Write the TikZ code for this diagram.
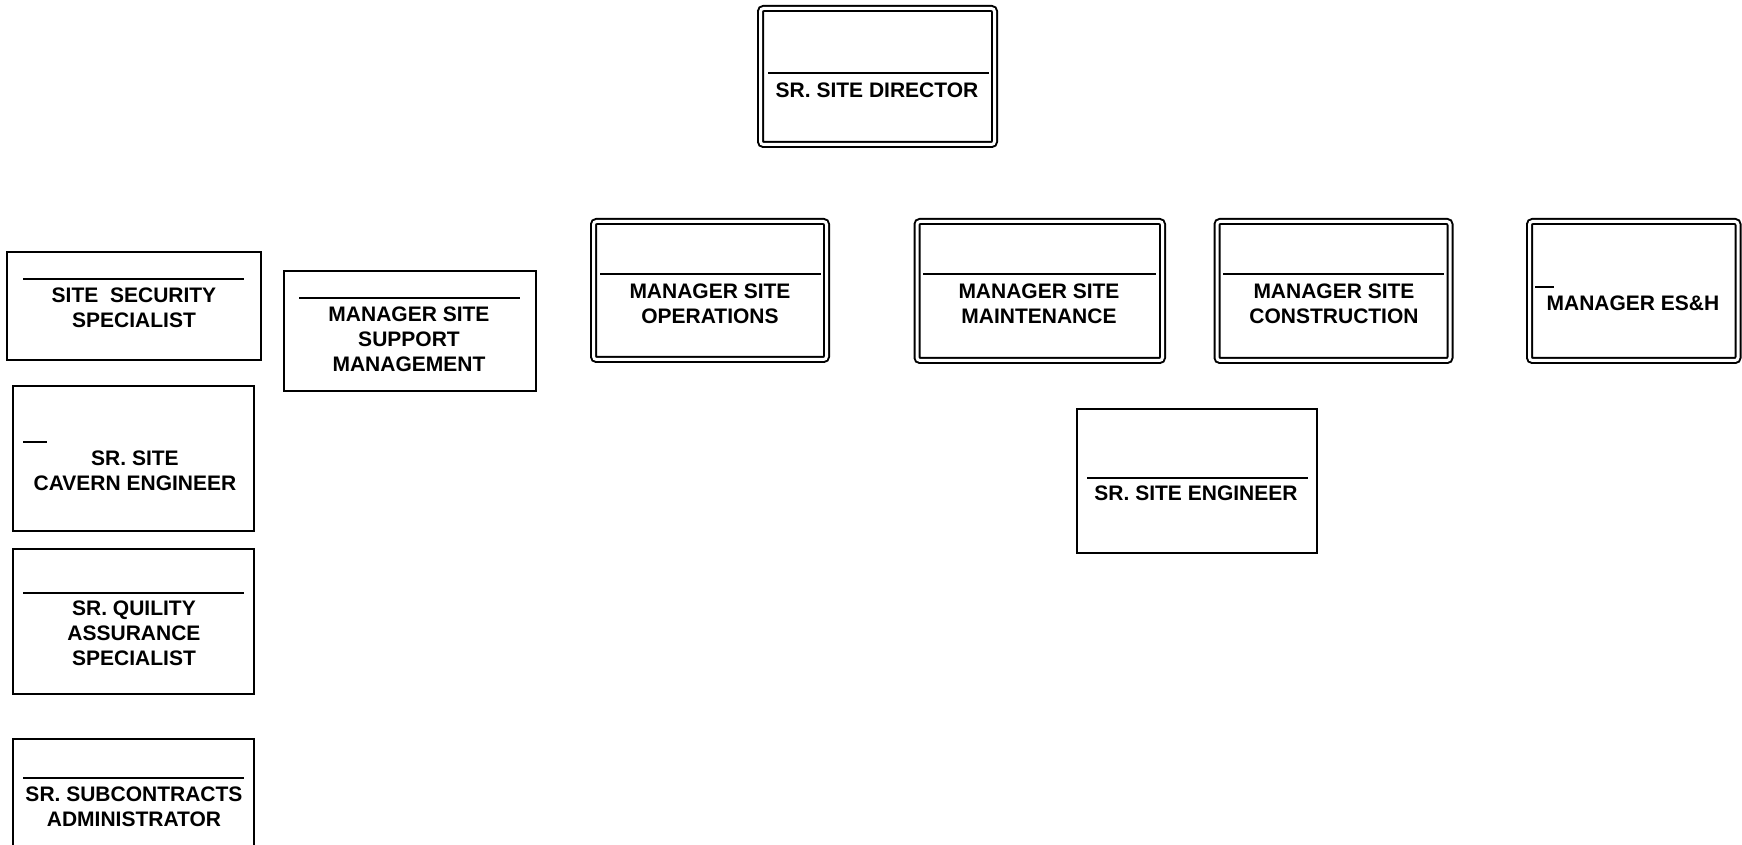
\documentclass[tikz,border=0pt]{standalone}
\usepackage{fontspec}
\setmainfont{Liberation Sans}
\usepackage{tikz}

\begin{document}
\begin{tikzpicture}[
  x=0.5pt, y=-0.5pt,
  mgrbox/.style={draw, double, line width=1pt, double distance=1.5pt,
                 rounded corners=1.5pt, inner sep=0pt},
  staffbox/.style={draw, line width=0.75pt, inner sep=0pt},
  divider/.style={line width=1pt},
  role/.style={align=center, inner sep=0pt,
               font=\fontsize{10.5}{12.5}\selectfont\bfseries}
]
\clip (0,0) rectangle (1742,845);
\node[mgrbox, minimum width=117pt, minimum height=68pt] (dir) at (877.5,76.5) {};
\node[mgrbox, minimum width=116.5pt, minimum height=69pt] (ops) at (710,290.5) {};
\node[mgrbox, minimum width=122.75pt, minimum height=69.5pt] (mnt) at (1039.75,291) {};
\node[mgrbox, minimum width=116.5pt, minimum height=69.5pt] (con) at (1333.5,291) {};
\node[mgrbox, minimum width=104.25pt, minimum height=69.5pt] (esh) at (1633.75,291) {};
\node[staffbox, minimum width=127pt, minimum height=54pt] (sec) at (134,306) {};
\node[staffbox, minimum width=126pt, minimum height=60pt] (sup) at (410,331) {};
\node[staffbox, minimum width=120.5pt, minimum height=72.5pt] (cav) at (133.5,458.5) {};
\node[staffbox, minimum width=120.5pt, minimum height=72.5pt] (qa) at (133.5,621.5) {};
\node[staffbox, minimum width=120.5pt, minimum height=72.5pt] (sub) at (133.5,811.5) {};
\node[staffbox, minimum width=120pt, minimum height=72pt] (eng) at (1197,481) {};
\draw[divider] (768,73) -- (989,73);
\draw[divider] (600,274) -- (821,274);
\draw[divider] (923,274) -- (1156,274);
\draw[divider] (1223,274) -- (1444,274);
\draw[divider] (1535,287) -- (1554,287);
\draw[divider] (23,279) -- (244,279);
\draw[divider] (299,298) -- (520,298);
\draw[divider] (23,442) -- (47,442);
\draw[divider] (23,593) -- (244,593);
\draw[divider] (23,778) -- (244,778);
\draw[divider] (1087,478) -- (1308,478);
\node[role] (dirT) at (877,90) {SR. SITE DIRECTOR};
\node[role] (opsT) at (710,304) {MANAGER SITE\\OPERATIONS};
\node[role] (mntT) at (1039,304) {MANAGER SITE\\MAINTENANCE};
\node[role] (conT) at (1334,304) {MANAGER SITE\\CONSTRUCTION};
\node[role] (eshT) at (1633,303) {MANAGER ES\&H};
\node[role] (secT) at (134,307.5) {SITE\ \ SECURITY\\SPECIALIST};
\node[role] (supT) at (409,339.5) {MANAGER SITE\\SUPPORT\\MANAGEMENT};
\node[role] (cavT) at (135,470.5) {SR. SITE\\CAVERN ENGINEER};
\node[role] (qaT) at (134,633) {SR. QUILITY\\ASSURANCE\\SPECIALIST};
\node[role] (subT) at (134,806.5) {SR. SUBCONTRACTS\\ADMINISTRATOR};
\node[role] (engT) at (1196,493) {SR. SITE ENGINEER};
\end{tikzpicture}
\end{document}
